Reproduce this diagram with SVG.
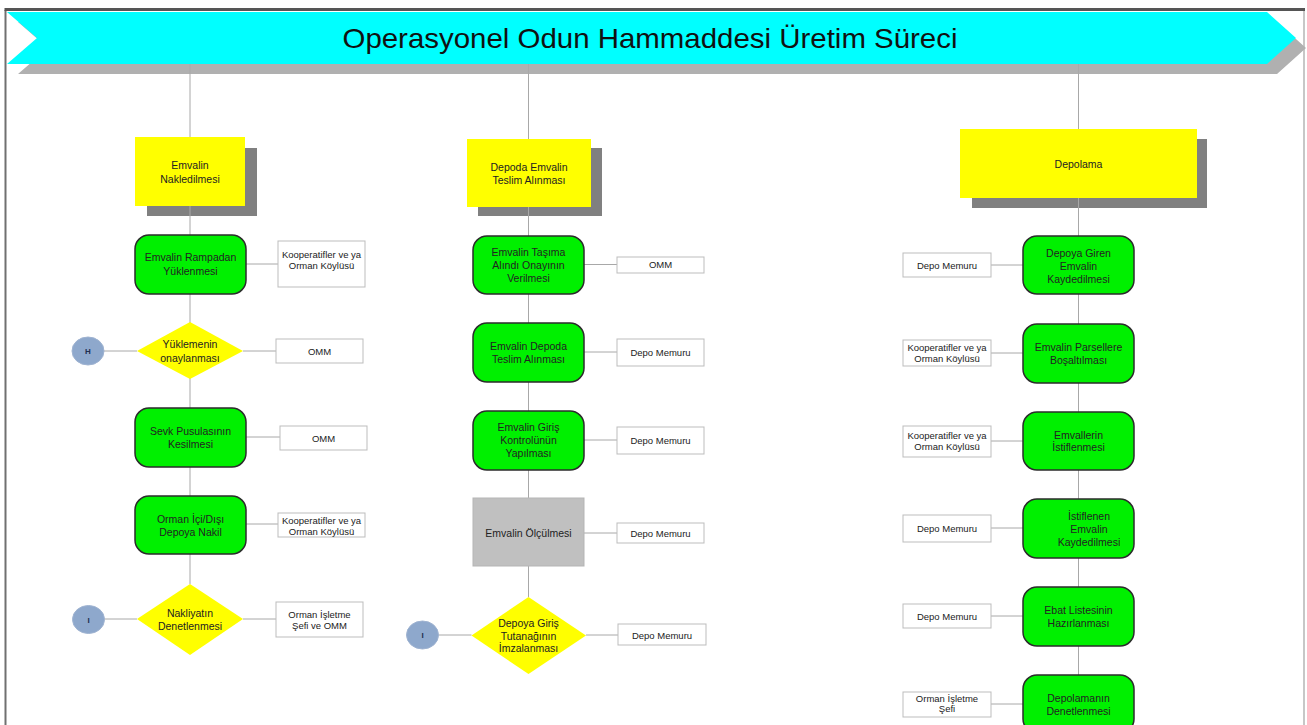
<svg xmlns="http://www.w3.org/2000/svg" width="1307" height="725" viewBox="0 0 1307 725">
<style>
text{font-family:"Liberation Sans",Arial,sans-serif;fill:#222;text-anchor:middle}
.n{font-size:10.5px}
.s{font-size:9.5px}
.yl{fill:#ffff00}
.sh{fill:#808080}
.gr{fill:#00f000;stroke:#2b2b2b;stroke-width:1.5}
.dm{fill:#ffff00}
.sd{fill:#fff;stroke:#bdbdbd;stroke-width:1}
.ci{fill:#8ea8cc;stroke:#9fb3d1;stroke-width:1}
.cl{font-size:8px;font-weight:bold;fill:#1f2f50}
.cn{stroke:#a8a8a8;stroke-width:1;fill:none}
</style>
<rect x="0" y="0" width="1307" height="725" fill="#fff"/>
<g id="frame">
<line x1="5.5" y1="10" x2="5.5" y2="725" stroke="#707070" stroke-width="2"/>
<line x1="1304" y1="10" x2="1304" y2="725" stroke="#b5b5b5" stroke-width="1.5"/>
<line x1="4.5" y1="9.5" x2="1305" y2="9.5" stroke="#555" stroke-width="3"/>
</g>
<g id="banner">
<polygon points="18,22 1277,22 1306,48 1277,74 18,74 48,48" fill="#b0b0b0"/>
<polygon points="7,12 1267,12 1296,38 1267,64 7,64 37,38" fill="#00ffff"/>
<text x="650" y="48" font-size="27.5" textLength="615" lengthAdjust="spacingAndGlyphs" style="fill:#111">Operasyonel Odun Hammaddesi Üretim Süreci</text>
</g>
<g id="connectors">
<line class="cn" x1="190" y1="64" x2="190" y2="584"/>
<line class="cn" x1="528.5" y1="64" x2="528.5" y2="597"/>
<line class="cn" x1="1078.5" y1="64" x2="1078.5" y2="675"/>
<line class="cn" x1="246" y1="264" x2="278" y2="264"/>
<line class="cn" x1="104" y1="351" x2="137" y2="351"/>
<line class="cn" x1="243" y1="351" x2="276" y2="351"/>
<line class="cn" x1="246" y1="437" x2="280" y2="437"/>
<line class="cn" x1="246" y1="524" x2="278" y2="524"/>
<line class="cn" x1="104" y1="619" x2="137" y2="619"/>
<line class="cn" x1="243" y1="619" x2="276" y2="619"/>
<line class="cn" x1="584" y1="264.5" x2="617" y2="264.5"/>
<line class="cn" x1="584" y1="352" x2="617" y2="352"/>
<line class="cn" x1="584" y1="440" x2="617" y2="440"/>
<line class="cn" x1="584" y1="533" x2="617" y2="533"/>
<line class="cn" x1="438.5" y1="635" x2="471.5" y2="635"/>
<line class="cn" x1="586" y1="635" x2="618" y2="635"/>
<line class="cn" x1="991" y1="265" x2="1023" y2="265"/>
<line class="cn" x1="991" y1="353" x2="1023" y2="353"/>
<line class="cn" x1="991" y1="441" x2="1023" y2="441"/>
<line class="cn" x1="991" y1="528" x2="1023" y2="528"/>
<line class="cn" x1="991" y1="616" x2="1023" y2="616"/>
<line class="cn" x1="991" y1="704" x2="1023" y2="704"/>
</g>
<!-- Left column -->
<g id="y1"><rect class="sh" x="147" y="148" width="110" height="68"/><rect class="yl" x="135" y="137" width="110" height="69"/><line class="cn" x1="190" y1="206" x2="190" y2="216"/><text class="n" x="190" y="169">Emvalin</text><text class="n" x="190" y="182.5">Nakledilmesi</text></g>
<g id="g1"><rect class="gr" x="135" y="235" width="111" height="59" rx="14"/><text class="n" x="190.5" y="261">Emvalin Rampadan</text><text class="n" x="190.5" y="275">Yüklenmesi</text></g>
<g id="s1"><rect class="sd" x="278" y="241" width="87" height="46"/><text class="s" x="321.5" y="257.5">Kooperatifler ve ya</text><text class="s" x="321.5" y="268.5">Orman Köylüsü</text></g>
<g id="d1"><polygon class="dm" points="190,322 243,351 190,379 137,351"/><text class="n" x="190" y="348">Yüklemenin</text><text class="n" x="190" y="361.5">onaylanması</text></g>
<g id="c1"><ellipse class="ci" cx="88" cy="351" rx="16" ry="14"/><text class="cl" x="88" y="354">H</text></g>
<g id="s2"><rect class="sd" x="276" y="339" width="87" height="24"/><text class="s" x="319.5" y="354.5">OMM</text></g>
<g id="g2"><rect class="gr" x="135" y="408" width="111" height="59" rx="14"/><text class="n" x="190.5" y="435">Sevk Pusulasının</text><text class="n" x="190.5" y="448">Kesilmesi</text></g>
<g id="s3"><rect class="sd" x="280" y="426" width="87" height="24"/><text class="s" x="323.5" y="441.5">OMM</text></g>
<g id="g3"><rect class="gr" x="135" y="496" width="111" height="58" rx="14"/><text class="n" x="190.5" y="523">Orman İçi/Dışı</text><text class="n" x="190.5" y="536">Depoya Nakil</text></g>
<g id="s4"><rect class="sd" x="278" y="513" width="87" height="24"/><text class="s" x="321.5" y="524">Kooperatifler ve ya</text><text class="s" x="321.5" y="534.5">Orman Köylüsü</text></g>
<g id="d2"><polygon class="dm" points="190,584 243,619 190,655 137,619"/><text class="n" x="190" y="617">Nakliyatın</text><text class="n" x="190" y="630">Denetlenmesi</text></g>
<g id="c2"><ellipse class="ci" cx="88.5" cy="619.5" rx="16" ry="14"/><text class="cl" x="88.5" y="622.5">I</text></g>
<g id="s5"><rect class="sd" x="276" y="602" width="87" height="35"/><text class="s" x="319.5" y="617.5">Orman İşletme</text><text class="s" x="319.5" y="628.5">Şefi ve OMM</text></g>
<!-- Middle column -->
<g id="y2"><rect class="sh" x="478" y="148" width="124" height="68"/><rect class="yl" x="467" y="139" width="124" height="68"/><line class="cn" x1="528.5" y1="207" x2="528.5" y2="216"/><text class="n" x="529" y="171">Depoda Emvalin</text><text class="n" x="529" y="183.5">Teslim Alınması</text></g>
<g id="g4"><rect class="gr" x="473" y="236" width="111" height="58" rx="14"/><text class="n" x="528.5" y="256">Emvalin Taşıma</text><text class="n" x="528.5" y="269">Alındı Onayının</text><text class="n" x="528.5" y="282">Verilmesi</text></g>
<g id="s6"><rect class="sd" x="617" y="257" width="87" height="16"/><text class="s" x="660.5" y="268">OMM</text></g>
<g id="g5"><rect class="gr" x="473" y="323" width="111" height="59" rx="14"/><text class="n" x="528.5" y="350">Emvalin Depoda</text><text class="n" x="528.5" y="363">Teslim Alınması</text></g>
<g id="s7"><rect class="sd" x="617" y="339" width="87" height="27"/><text class="s" x="660.5" y="356">Depo Memuru</text></g>
<g id="g6"><rect class="gr" x="473" y="411" width="111" height="59" rx="14"/><text class="n" x="528.5" y="431">Emvalin Giriş</text><text class="n" x="528.5" y="444">Kontrolünün</text><text class="n" x="528.5" y="457">Yapılması</text></g>
<g id="s8"><rect class="sd" x="617" y="427" width="87" height="27"/><text class="s" x="660.5" y="443.5">Depo Memuru</text></g>
<g id="b1"><rect x="473" y="498" width="111" height="68" fill="#c0c0c0" stroke="#b5b5b5" stroke-width="1"/><text class="n" x="528.5" y="537">Emvalin Ölçülmesi</text></g>
<g id="s9"><rect class="sd" x="617" y="523" width="87" height="20"/><text class="s" x="660.5" y="536.5">Depo Memuru</text></g>
<g id="d3"><polygon class="dm" points="528.5,597 586,635.5 528.5,674 471.5,635.5"/><text class="n" x="528.5" y="626.5">Depoya Giriş</text><text class="n" x="528.5" y="639.5">Tutanağının</text><text class="n" x="528.5" y="651.5">İmzalanması</text></g>
<g id="c3"><ellipse class="ci" cx="422.5" cy="635" rx="16" ry="14"/><text class="cl" x="422.5" y="638">I</text></g>
<g id="s10"><rect class="sd" x="618" y="624" width="88" height="21"/><text class="s" x="662" y="638.5">Depo Memuru</text></g>
<!-- Right column -->
<g id="y3"><rect class="sh" x="972" y="139" width="235" height="69"/><rect class="yl" x="960" y="129" width="237" height="69"/><line class="cn" x1="1078.5" y1="198" x2="1078.5" y2="208"/><text class="n" x="1078.5" y="168">Depolama</text></g>
<g id="g7"><rect class="gr" x="1023" y="236" width="111" height="58" rx="14"/><text class="n" x="1078.5" y="257">Depoya Giren</text><text class="n" x="1078.5" y="270">Emvalin</text><text class="n" x="1078.5" y="283">Kaydedilmesi</text></g>
<g id="s11"><rect class="sd" x="903" y="253" width="88" height="24"/><text class="s" x="947" y="269">Depo Memuru</text></g>
<g id="g8"><rect class="gr" x="1023" y="324" width="111" height="59" rx="14"/><text class="n" x="1078.5" y="351">Emvalin Parsellere</text><text class="n" x="1078.5" y="364">Boşaltılması</text></g>
<g id="s12"><rect class="sd" x="903" y="340" width="88" height="26"/><text class="s" x="947" y="351">Kooperatifler ve ya</text><text class="s" x="947" y="361.5">Orman Köylüsü</text></g>
<g id="g9"><rect class="gr" x="1023" y="412" width="111" height="58" rx="14"/><text class="n" x="1078.5" y="438.5">Emvallerin</text><text class="n" x="1078.5" y="451">İstiflenmesi</text></g>
<g id="s13"><rect class="sd" x="903" y="426" width="88" height="31"/><text class="s" x="947" y="439">Kooperatifler ve ya</text><text class="s" x="947" y="449.5">Orman Köylüsü</text></g>
<g id="g10"><rect class="gr" x="1023" y="499" width="111" height="59" rx="14"/><text class="n" x="1089" y="520">İstiflenen</text><text class="n" x="1089" y="533">Emvalin</text><text class="n" x="1089" y="546">Kaydedilmesi</text></g>
<g id="s14"><rect class="sd" x="903" y="515" width="88" height="27"/><text class="s" x="947" y="532">Depo Memuru</text></g>
<g id="g11"><rect class="gr" x="1023" y="587" width="111" height="59" rx="14"/><text class="n" x="1078.5" y="614">Ebat Listesinin</text><text class="n" x="1078.5" y="627">Hazırlanması</text></g>
<g id="s15"><rect class="sd" x="903" y="604" width="88" height="24"/><text class="s" x="947" y="620">Depo Memuru</text></g>
<g id="g12"><rect class="gr" x="1023" y="675" width="111" height="58" rx="14"/><text class="n" x="1078.5" y="702">Depolamanın</text><text class="n" x="1078.5" y="715">Denetlenmesi</text></g>
<g id="s16"><rect class="sd" x="903" y="692" width="88" height="25"/><text class="s" x="947" y="702">Orman İşletme</text><text class="s" x="947" y="712">Şefi</text></g>
</svg>
